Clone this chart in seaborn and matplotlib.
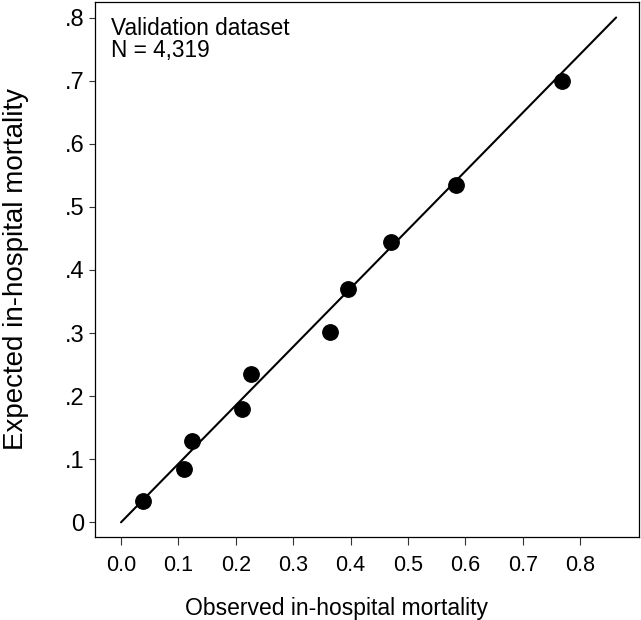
import matplotlib
matplotlib.use("Agg")
import matplotlib.pyplot as plt
import seaborn as sns
import pandas as pd

# observed vs expected in-hospital mortality, by risk group
observed = [0.036, 0.101, 0.114, 0.196, 0.210, 0.338, 0.367, 0.436, 0.542, 0.713]
expected = [0.033, 0.084, 0.129, 0.179, 0.235, 0.302, 0.369, 0.444, 0.535, 0.699]
ref_line = [0.0, 0.8]
x_tick_labels = ["0.0", "0.1", "0.2", "0.3", "0.4", "0.5", "0.6", "0.7", "0.8"]
y_ticks = [0, 0.1, 0.2, 0.3, 0.4, 0.5, 0.6, 0.7, 0.8]
y_tick_labels = ["0", ".1", ".2", ".3", ".4", ".5", ".6", ".7", ".8"]

df = pd.DataFrame({"obs": observed, "exp": expected})

sns.set_style("white")
plt.rcParams["font.family"] = ["Liberation Sans", "DejaVu Sans"]
plt.rcParams["text.color"] = "black"
plt.rcParams["axes.labelcolor"] = "black"
plt.rcParams["xtick.labelcolor"] = "black"
plt.rcParams["ytick.labelcolor"] = "black"

fig = plt.figure(figsize=(6.41, 6.20), dpi=100)
ax = fig.add_axes([94.7 / 641, 1 - 536.7 / 620, (639 - 94.7) / 641, (536.7 - 2) / 620])

sns.lineplot(x=ref_line, y=ref_line, color="black", linewidth=1.5, ax=ax)
sns.scatterplot(data=df, x="obs", y="exp", color="black", s=125, edgecolor="black", ax=ax, zorder=3)

ax.set_xlim(-0.0425, 0.837)
ax.set_ylim(-0.0228, 0.8246)

# x labels in the source graph sit at a slightly tighter spacing than the y=x line
xscale = 57.4 / 61.9
ax.set_xticks([i * 0.1 * xscale for i in range(len(x_tick_labels))])
ax.set_xticklabels(x_tick_labels)
ax.set_yticks(y_ticks)
ax.set_yticklabels(y_tick_labels)

ax.tick_params(axis="x", direction="out", length=6, width=0.8, color="#333333",
               labelsize=15.5, bottom=True, pad=7)
ax.tick_params(axis="y", direction="out", length=4.5, width=0.8, color="#333333",
               labelsize=17, left=True, pad=3)

for sp in ax.spines.values():
    sp.set_color("black")
    sp.set_linewidth(0.9)

ax.set_xlabel("Observed in-hospital mortality", fontsize=16.5)
ax.xaxis.set_label_coords(0.445, -0.112)
ax.set_ylabel("Expected in-hospital mortality", fontsize=20, va="center")
ax.yaxis.set_label_coords(-0.145, 0.5)

ax.text(0.03, 0.972, "Validation dataset\nN = 4,319", transform=ax.transAxes,
        ha="left", va="top", fontsize=16.3, linespacing=0.92)

fig.savefig("out.png", dpi=100)
